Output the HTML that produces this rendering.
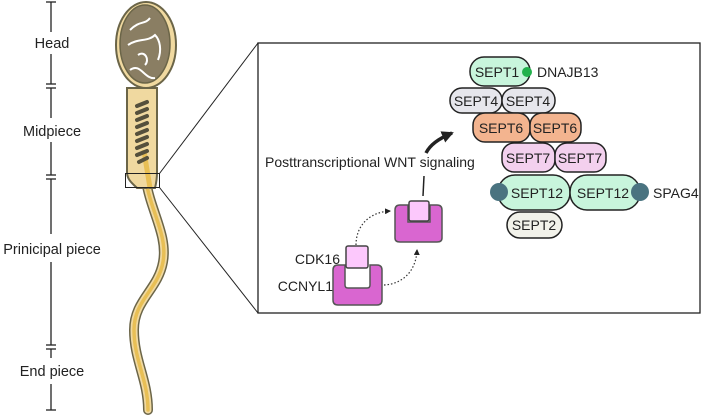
<!DOCTYPE html>
<html><head><style>html,body{margin:0;padding:0;background:#fff}svg{display:block}</style></head>
<body>
<svg width="708" height="415" viewBox="0 0 708 415" xmlns="http://www.w3.org/2000/svg" font-family="Liberation Sans, sans-serif">
<defs>
<marker id="ah" markerWidth="6" markerHeight="6" refX="5" refY="3" orient="auto" markerUnits="userSpaceOnUse"><path d="M0,0 L6,3 L0,6 z" fill="#222"/></marker>
<marker id="ah2" markerWidth="14" markerHeight="12" refX="10" refY="6" orient="auto" markerUnits="userSpaceOnUse"><path d="M0,0 L12,6 L0,12 z" fill="#222"/></marker>
</defs>
<g stroke="#222" stroke-width="1.3">
<line x1="51" y1="2" x2="51" y2="32"/><line x1="51" y1="54" x2="51" y2="84"/>
<line x1="51" y1="88" x2="51" y2="118"/><line x1="51" y1="142" x2="51" y2="175"/>
<line x1="51" y1="179" x2="51" y2="234"/><line x1="51" y1="262" x2="51" y2="345"/>
<line x1="51" y1="349" x2="51" y2="358"/><line x1="51" y1="384" x2="51" y2="410"/>
<line x1="46" y1="2" x2="56" y2="2"/><line x1="46" y1="84" x2="56" y2="84"/><line x1="46" y1="88" x2="56" y2="88"/>
<line x1="46" y1="175" x2="56" y2="175"/><line x1="46" y1="179" x2="56" y2="179"/>
<line x1="46" y1="345" x2="56" y2="345"/><line x1="46" y1="349" x2="56" y2="349"/><line x1="46" y1="410" x2="56" y2="410"/>
</g>
<g font-size="14.5" fill="#222" text-anchor="middle">
<text x="52" y="48">Head</text><text x="52" y="136">Midpiece</text>
<text x="52" y="254">Prinicipal piece</text><text x="52" y="376">End piece</text>
</g>
<path d="M146,180 C150,210 168,235 163,262 C158,290 134,300 134,330 C134,360 148,380 148,410" fill="none" stroke="#6b6548" stroke-width="10" stroke-linecap="round"/>
<path d="M146,180 C150,210 168,235 163,262 C158,290 134,300 134,330 C134,360 148,380 148,410" fill="none" stroke="#f0d9a0" stroke-width="7" stroke-linecap="round"/>
<path d="M146,180 C150,210 168,235 163,262 C158,290 134,300 134,330 C134,360 148,380 148,410" fill="none" stroke="#e8bf55" stroke-width="3.5" stroke-linecap="round"/>
<path d="M127,88 L127,172 C127,180 133,184 137,188 L155,188 C156,184 157,180 157,172 L157,88 Z" fill="#f0d9a0" stroke="#6b6548" stroke-width="2"/>
<path d="M144,150 C146,165 148,175 150,188" stroke="#e8bf55" stroke-width="5" fill="none"/>
<ellipse cx="146" cy="45" rx="30" ry="43" fill="#f0d9a0" stroke="#6b6548" stroke-width="2"/>
<ellipse cx="145" cy="44" rx="25" ry="39" fill="#8a7e63" stroke="#6b6548" stroke-width="1.5"/>
<path d="M130,30 C140,20 145,25 150,18 M128,45 C138,38 148,42 155,35 C160,40 162,50 158,60 M130,70 C140,62 145,80 155,78 M138,55 C145,50 150,60 145,65" stroke="#fff" stroke-width="2" fill="none"/>
<g stroke="#55503c" stroke-width="4" stroke-linecap="round">
<line x1="137" y1="106" x2="147" y2="102"/><line x1="137" y1="113" x2="147" y2="109"/><line x1="137" y1="120" x2="147" y2="116"/><line x1="137" y1="127" x2="147" y2="123"/><line x1="137" y1="134" x2="147" y2="130"/><line x1="137" y1="141" x2="147" y2="137"/><line x1="137" y1="148" x2="147" y2="144"/><line x1="137" y1="155" x2="147" y2="151"/><line x1="139" y1="162" x2="147" y2="158"/>
</g>
<rect x="125.5" y="173.5" width="34" height="14" fill="none" stroke="#222" stroke-width="1"/>
<line x1="159.5" y1="173.5" x2="258" y2="43" stroke="#222" stroke-width="1"/>
<line x1="159.5" y1="187.5" x2="258" y2="313" stroke="#222" stroke-width="1"/>
<rect x="258" y="43" width="442" height="270" fill="none" stroke="#222" stroke-width="1.3"/>
<text x="265" y="167" font-size="14" fill="#222">Posttranscriptional WNT signaling</text>
<path d="M423,196 L424,176" stroke="#222" stroke-width="1.5" fill="none"/>
<path d="M426,153 C430,145 438,139 452,133" stroke="#222" stroke-width="3.5" fill="none" marker-end="url(#ah2)"/>
<path d="M395,210 Q395,205 400,205 L408,205 L408,222 L430,222 L430,205 L437,205 Q442,205 442,210 L442,238 Q442,242 437,242 L400,242 Q395,242 395,238 Z" fill="#d966d0" stroke="#555" stroke-width="1.5"/>
<rect x="409" y="201" width="20" height="20" rx="2" fill="#fcc8fc" stroke="#444" stroke-width="1.5"/>
<path d="M333,270 Q333,265 338,265 L345,265 L345,285 Q345,288 348,288 L367,288 Q370,288 370,285 L370,265 L377,265 Q382,265 382,270 L382,300 Q382,305 377,305 L338,305 Q333,305 333,300 Z" fill="#d966d0" stroke="#555" stroke-width="1.5"/>
<rect x="346" y="246" width="22" height="22" rx="2" fill="#fcc8fc" stroke="#444" stroke-width="1.5"/>
<text x="340" y="264" font-size="14" fill="#222" text-anchor="end">CDK16</text>
<text x="333" y="291" font-size="14" fill="#222" text-anchor="end">CCNYL1</text>
<path d="M356,245 C356,225 370,212 390,211" fill="none" stroke="#333" stroke-width="1.2" stroke-dasharray="1.5,2" marker-end="url(#ah)"/>
<path d="M384,285 C402,284 416,272 417,250" fill="none" stroke="#333" stroke-width="1.2" stroke-dasharray="1.5,2" marker-end="url(#ah)"/>
<g stroke="#222" stroke-width="1.5">
<rect x="470" y="57" width="60" height="29" rx="14" fill="#c8f5dc"/>
<rect x="450" y="88" width="52" height="25" rx="12" fill="#e6e6ec"/>
<rect x="502" y="88" width="53" height="25" rx="12" fill="#e6e6ec"/>
<rect x="473" y="113" width="57" height="29" rx="12" fill="#f3b48f"/>
<rect x="530" y="113" width="51" height="29" rx="12" fill="#f3b48f"/>
<rect x="502" y="143" width="53" height="29" rx="12" fill="#f3d0ee"/>
<rect x="555" y="143" width="51" height="29" rx="12" fill="#f3d0ee"/>
<rect x="498" y="175" width="72" height="35" rx="17" fill="#c8f5dc"/>
<rect x="570" y="175" width="70" height="35" rx="17" fill="#c8f5dc"/>
<rect x="507" y="212" width="55" height="26" rx="13" fill="#f2f2ea"/>
</g>
<circle cx="527" cy="72" r="5" fill="#22b14c"/>
<circle cx="499" cy="192" r="9" fill="#4a7380"/>
<circle cx="640" cy="192" r="9" fill="#4a7380"/>
<g font-size="14" fill="#222" text-anchor="middle">
<text x="497" y="77">SEPT1</text>
<text x="476" y="106">SEPT4</text><text x="528" y="106">SEPT4</text>
<text x="501" y="133">SEPT6</text><text x="555" y="133">SEPT6</text>
<text x="528" y="163">SEPT7</text><text x="580" y="163">SEPT7</text>
<text x="537" y="198">SEPT12</text><text x="603" y="198">SEPT12</text>
<text x="534" y="230">SEPT2</text>
</g>
<text x="537" y="77" font-size="14" fill="#222">DNAJB13</text>
<text x="653" y="198" font-size="14" fill="#222">SPAG4</text>
</svg>
</body></html>
